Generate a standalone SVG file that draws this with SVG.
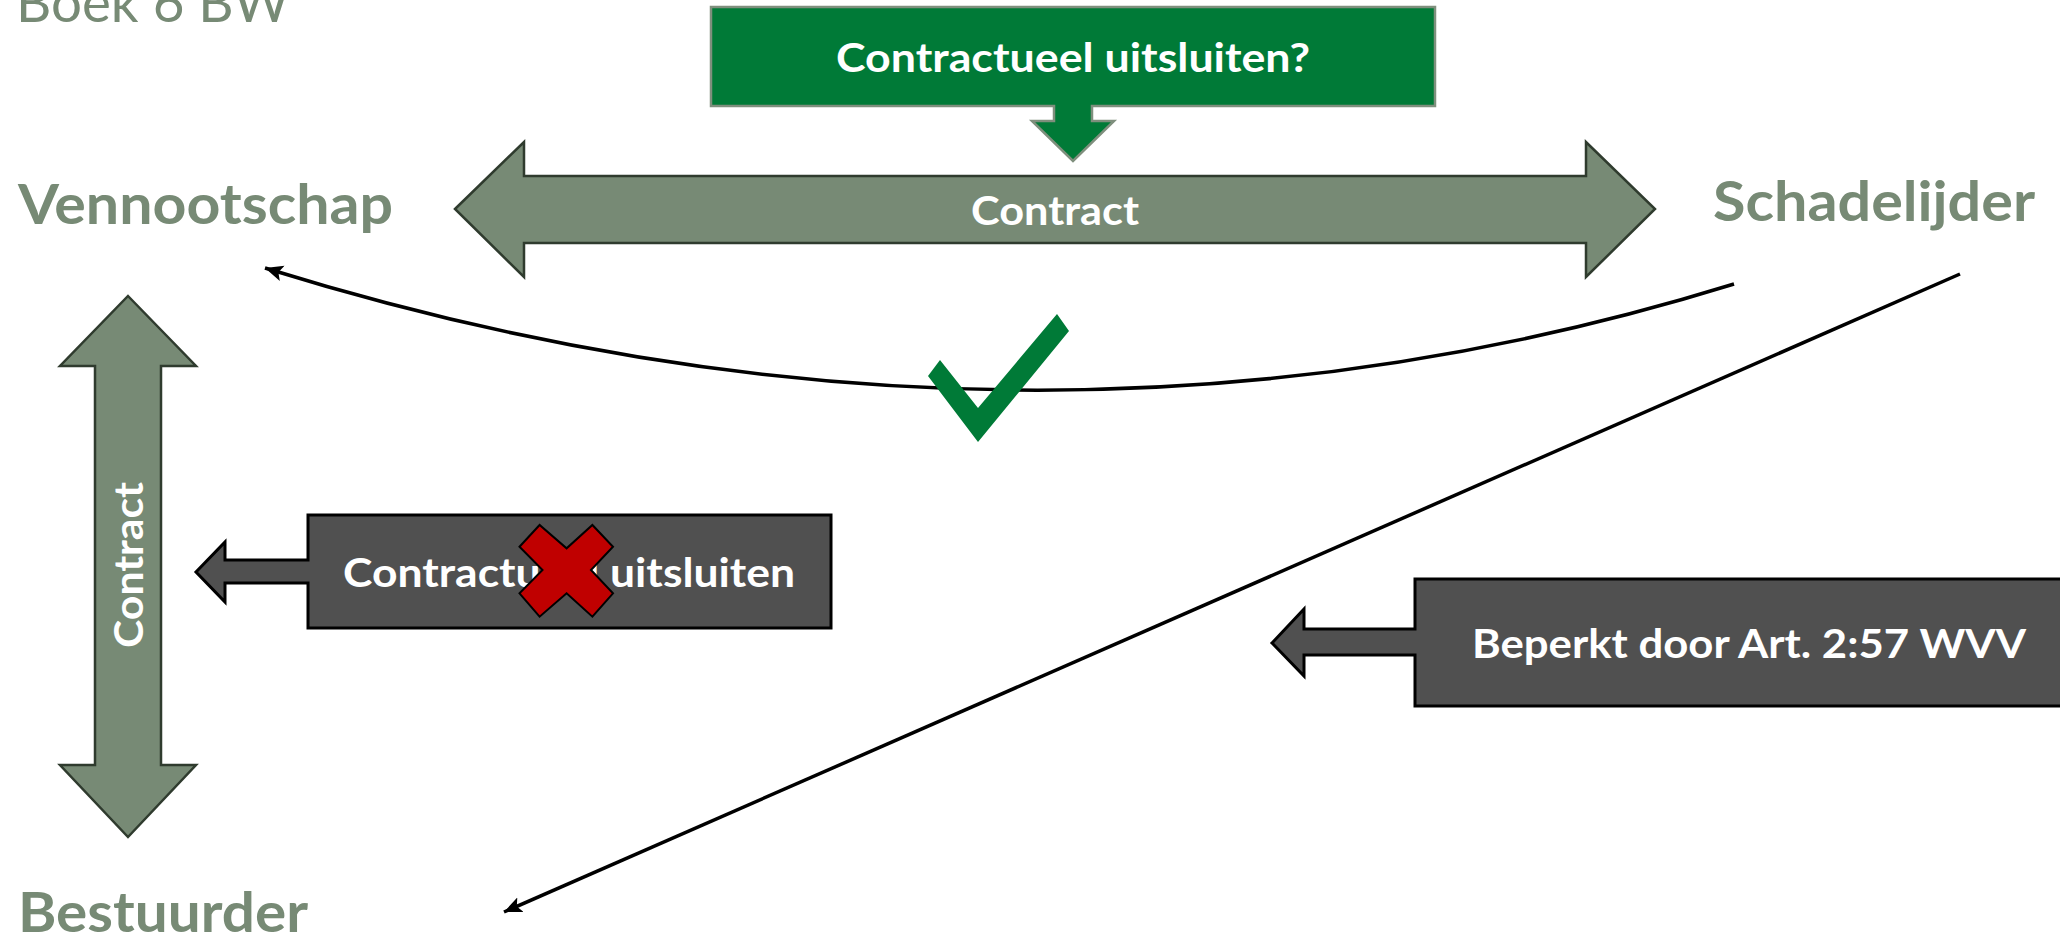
<svg xmlns="http://www.w3.org/2000/svg" width="2060" height="938" viewBox="0 0 2060 938">
<style>
.title{font-family:Lato,"Open Sans","Liberation Sans",sans-serif;font-weight:700;font-size:56px;fill:#778a75}
.lbl{font-family:Lato,"Open Sans","Liberation Sans",sans-serif;font-weight:700;font-size:41px;fill:#ffffff}
.gg{fill:#778a75;stroke:#2f3b2e;stroke-width:2.5}
.dark{fill:#505050;stroke:#000;stroke-width:3}
.conn{fill:none;stroke:#000;stroke-width:3.5}
</style>
<defs>
<marker id="ah" markerUnits="userSpaceOnUse" markerWidth="22" markerHeight="18" refX="18" refY="8" orient="auto">
<path d="M0,0 L18,8 L0,16 L4,8 Z" fill="#000"/>
</marker>
</defs>
<rect width="2060" height="938" fill="#fff"/>
<text id="boek" x="16" y="22" style="font-family:Lato,'Open Sans','Liberation Sans',sans-serif;font-size:55px;fill:#778a75" textLength="274" lengthAdjust="spacingAndGlyphs">Boek 6 BW</text>
<g id="connectors">
<path class="conn" d="M1734,284 Q1024,504 265,268" marker-end="url(#ah)"/>
<path class="conn" d="M1960,274 L504,912" marker-end="url(#ah)"/>
</g>
<g id="vennootschap"><text class="title" x="18" y="224" textLength="375" lengthAdjust="spacingAndGlyphs">Vennootschap</text></g>
<g id="schadelijder"><text class="title" x="1713" y="221" textLength="322" lengthAdjust="spacingAndGlyphs">Schadelijder</text></g>
<g id="bestuurder"><text class="title" x="18" y="932" textLength="290" lengthAdjust="spacingAndGlyphs">Bestuurder</text></g>
<g id="contract-h">
<path class="gg" d="M455,209 L524,142 L524,176 L1586,176 L1586,142 L1655,209 L1586,277 L1586,243 L524,243 L524,277 Z"/>
<text class="lbl" x="1055" y="225" text-anchor="middle" textLength="168" lengthAdjust="spacingAndGlyphs">Contract</text>
</g>
<g id="contract-v">
<path class="gg" d="M128,296 L196,366 L161,366 L161,765 L196,765 L128,837 L60,765 L95,765 L95,366 L60,366 Z"/>
<text class="lbl" transform="translate(143,565) rotate(-90)" x="0" y="0" text-anchor="middle" textLength="166" lengthAdjust="spacingAndGlyphs">Contract</text>
</g>
<g id="uitsluiten-vraag">
<path d="M711,7 L1435,7 L1435,106 L1092,106 L1092,121 L1114,121 L1073,161 L1032,121 L1054,121 L1054,106 L711,106 Z" fill="#007a37" stroke="#7f8f7d" stroke-width="2.5"/>
<text class="lbl" x="1073" y="72" text-anchor="middle" textLength="474" lengthAdjust="spacingAndGlyphs">Contractueel uitsluiten?</text>
</g>
<g id="check">
<polygon points="928,376 940,360 978,408 1057,314 1069,331 978,442" fill="#007a37"/>
</g>
<g id="uitsluiten">
<path class="dark" d="M308,515 L831,515 L831,628 L308,628 L308,583 L225,583 L225,602 L196,572 L225,542 L225,560 L308,560 Z"/>
<text class="lbl" x="343" y="587" textLength="452" lengthAdjust="spacingAndGlyphs">Contractueel uitsluiten</text>
</g>
<g id="cross">
<polygon points="519.5,546.7 539.6,525 566.6,548.3 592.4,525 613,546.7 591,570 613,593.3 592.4,616.7 566.6,593.3 539.6,616.7 519.5,593.3 542.5,570" fill="#c00000" stroke="#000" stroke-width="2"/>
</g>
<g id="beperkt">
<path class="dark" d="M1415,579 L2085,579 L2085,706 L1415,706 L1415,655 L1304,655 L1304,676 L1272,643 L1304,609 L1304,629 L1415,629 Z"/>
<text class="lbl" x="1472" y="658" textLength="554" lengthAdjust="spacingAndGlyphs">Beperkt door Art. 2:57 WVV</text>
</g>
</svg>
